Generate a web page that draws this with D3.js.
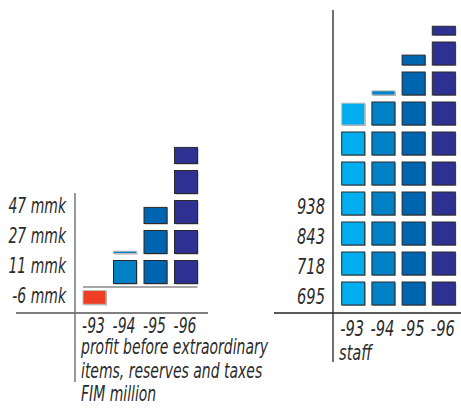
<!DOCTYPE html>
<html>
<head>
<meta charset="utf-8">
<script src="https://cdn.jsdelivr.net/npm/d3@7"></script>
<style>
  body { margin: 0; background: #fff; }
  svg text { font-family: "DejaVu Sans Condensed", "DejaVu Sans", sans-serif; font-style: italic; fill: #2b2b2b; }
</style>
</head>
<body>
<svg id="chart" width="461" height="413"></svg>
<script>
// data
const years = ["-93", "-94", "-95", "-96"];
const profit = [-6, 11, 27, 47];          // FIM million
const profitLabels = ["-6 mmk", "11 mmk", "27 mmk", "47 mmk"];
const staff = [695, 718, 843, 938];
const staffLabels = ["695", "718", "843", "938"];
const profitCaption = ["profit before extraordinary", "items, reserves and taxes", "FIM million"];
const staffCaption = ["staff"];

const yearColors = ["#00aeef", "#0080c5", "#0065b1", "#2e3192"];
const negColor = "#ef3e24";
const blockH = 23;
const squeeze = 0.74;   // the original type is very condensed

const svg = d3.select("#chart");

// turn a value into blocks: full ones plus the remainder
function makeBlocks(values, unit) {
  let out = [];
  values.forEach((v, i) => {
    let n = Math.abs(v) / unit;
    let full = Math.floor(n + 1e-9);
    let sign = v < 0 ? -1 : 1;
    for (let k = 0; k < full; k++) out.push({ year: years[i], idx: i, row: k, frac: 1, sign: sign, top: false });
    let rest = n - full;
    if (rest > 0.01) out.push({ year: years[i], idx: i, row: full, frac: rest, sign: sign, top: true });
  });
  return out;
}

function drawBlocks(g, blocks, x, y, unit, gap) {
  let sel = g.selectAll("g.block").data(blocks).enter().append("g").attr("class", "block");
  let geom = d => {
    let h = blockH * d.frac;
    let yy;
    if (d.sign > 0) yy = y(d.row * unit) - gap - h;
    else yy = y(-d.row * unit) + gap;
    return { x: x(d.year), y: yy, w: x.bandwidth(), h: h };
  };
  sel.append("rect")
    .attr("x", d => geom(d).x + 1)
    .attr("y", d => geom(d).y + 1)
    .attr("width", d => geom(d).w)
    .attr("height", d => geom(d).h)
    .attr("fill", "#a6a6a6");
  sel.append("rect")
    .attr("x", d => geom(d).x)
    .attr("y", d => geom(d).y)
    .attr("width", d => geom(d).w)
    .attr("height", d => geom(d).h)
    .attr("fill", d => d.sign < 0 ? negColor : yearColors[d.idx])
    .attr("stroke", d => (d.top && d.frac < 0.99 && d.idx < 2) ? "#bdbdbd" : "#2a2a2a")
    .attr("stroke-width", 1);
}

// smaller type stretched upward, so it reads as tall condensed type
function label(g, data, cls, xf, yf, size, anchor) {
  g.selectAll("text." + cls).data(data).enter().append("text")
    .attr("class", cls)
    .attr("transform", (d, i) => `translate(${xf(d, i)},${yf(d, i)}) scale(1,${1 / squeeze})`)
    .attr("text-anchor", anchor)
    .attr("font-size", size * squeeze)
    .text(d => d);
}

// ---- left chart: profit ----
const xL = d3.scaleBand().domain(years).range([83, 197.5]).paddingInner(0.246);
const yL = d3.scaleLinear().domain([0, 10]).range([287, 257]);
const left = svg.append("g");

left.append("line").attr("x1", 16).attr("x2", 208).attr("y1", 313).attr("y2", 313)
  .attr("stroke", "#555").attr("stroke-width", 1.5);
left.append("line").attr("x1", 75).attr("x2", 75).attr("y1", 193).attr("y2", 382)
  .attr("stroke", "#777").attr("stroke-width", 1.5);
left.append("line").attr("x1", xL.range()[0]).attr("x2", xL.range()[1])
  .attr("y1", yL(0)).attr("y2", yL(0))
  .attr("stroke", "#8a8a8a").attr("stroke-width", 1.5);

drawBlocks(left, makeBlocks(profit, 10), xL, yL, 10, 3.5);

label(left, profitLabels, "ylab", () => 66, (d, i) => yL((i - 1) * 10) - 3.5 - blockH / 2 + 1, 21, "end");
label(left, years, "xlab", d => xL(d) + xL.bandwidth() / 2 - 1, () => 333, 21, "middle");
label(left, profitCaption, "cap", () => 81, (d, i) => 354 + i * 23.5, 21, "start");

// ---- right chart: staff ----
const xR = d3.scaleBand().domain(years).range([341.7, 455.3]).paddingInner(0.238);
const yR = d3.scaleLinear().domain([0, 100]).range([308.5, 278.5]);
const right = svg.append("g");

right.append("line").attr("x1", 274).attr("x2", 461).attr("y1", 313).attr("y2", 313)
  .attr("stroke", "#222").attr("stroke-width", 1.3);
right.append("line").attr("x1", 333).attr("x2", 333).attr("y1", 10).attr("y2", 362)
  .attr("stroke", "#222").attr("stroke-width", 1.3);

drawBlocks(right, makeBlocks(staff, 100), xR, yR, 100, 3.5);

label(right, staffLabels, "ylab", () => 325, (d, i) => yR(i * 100) - 3.5 - blockH / 2 + 10, 22, "end");
label(right, years, "xlab", d => xR(d) + xR.bandwidth() / 2 - 1, () => 336, 22, "middle");
label(right, staffCaption, "cap", () => 339, () => 360, 22, "start");
</script>
</body>
</html>
